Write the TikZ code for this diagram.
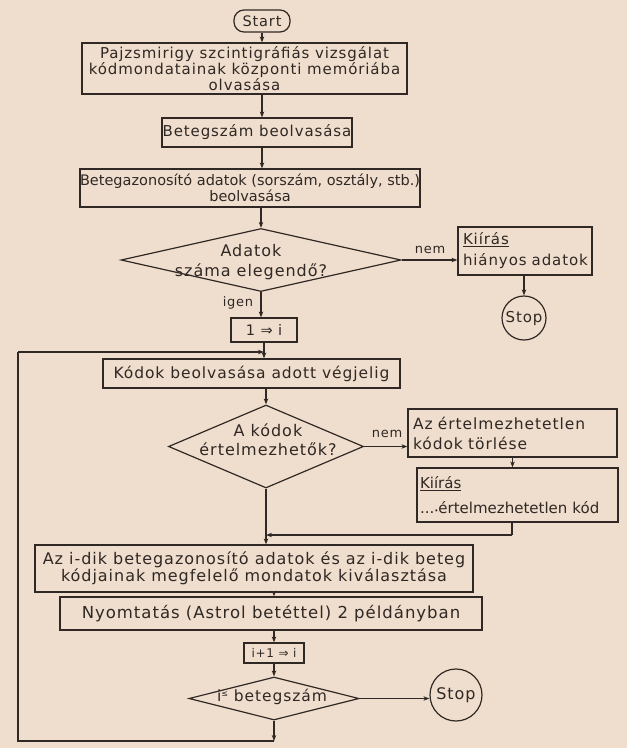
\documentclass[tikz,border=0pt]{standalone}
\usepackage{fontspec}
\setmainfont{DejaVu Sans}[LetterSpace=6]
\newfontfamily\tightfont{DejaVu Sans}[LetterSpace=0]
\usetikzlibrary{shapes.geometric,arrows.meta}
\definecolor{paper}{RGB}{239,222,205}
\definecolor{ink}{RGB}{48,40,36}
\begin{document}
\begin{tikzpicture}[x=1pt,y=-1pt,
  every node/.style={font=\fontsize{15.5}{18}\selectfont, text=ink},
  line/.style={draw=ink, line width=1.2pt},
  flow/.style={line, -{Stealth[length=6pt,width=4.5pt]}},
  box/.style={draw=ink, line width=1.2pt, rectangle, inner sep=0pt, align=center},
  lbox/.style={box, align=left, inner xsep=5pt},
  dec/.style={draw=ink, line width=1.2pt, diamond, inner sep=0pt},
  term/.style={draw=ink, line width=1.2pt, circle, inner sep=0pt},
  startbox/.style={draw=ink, line width=1.2pt, rectangle, rounded corners=10pt, inner sep=0pt},
  lbl/.style={inner sep=1pt, font=\fontsize{13}{15}\selectfont}
]
% paper
\fill[paper] (0,0) rectangle (627,748);
\useasboundingbox (0,0) rectangle (627,748);

% ---- nodes ----
\node[startbox, minimum width=56pt, minimum height=22pt, font=\fontsize{14.5}{17}\selectfont] (start) at (262,21) {Start};
\node[box, minimum width=325pt, minimum height=51pt, font=\fontsize{15}{14}\selectfont] (b1) at (244.5,68.5)
  {Pajzsmirigy szcintigráfiás vizsgálat\\kódmondatainak központi memóriába\\olvasása};
\node[box, minimum width=190pt, minimum height=29pt, font=\fontsize{15}{18}\selectfont] (b2) at (257,132.5) {Betegszám beolvasása};
\node[box, minimum width=340pt, minimum height=38pt, font=\tightfont\fontsize{14.5}{16.5}\selectfont] (b3) at (250,188)
  {Betegazonosító adatok (sorszám, osztály, stb.)\\beolvasása};

\node[dec, minimum width=280pt, minimum height=63pt] (d1) at (261,260) {};
\node[align=center, font=\fontsize{16}{20}\selectfont] (d1t) at (251,262) {Adatok\\száma elegendő?};
\node[lbox, text width=124pt, minimum height=48pt, font=\fontsize{15}{21}\selectfont] (k1) at (525,251)
  {\underline{Kiírás}\\hiányos adatok};
\node[lbl] (nem1) at (430,250) {nem};
\node[term, minimum size=44pt, font=\fontsize{15}{18}\selectfont] (stop1) at (524,318) {Stop};
\node[lbl] (igen) at (238,303) {igen};
\node[box, minimum width=66pt, minimum height=24pt, font=\fontsize{14.5}{17}\selectfont] (i1) at (264,330) {1 ⇒ i};

\node[box, minimum width=297pt, minimum height=29pt] (b4) at (251.5,373.5) {Kódok beolvasása adott végjelig};

\node[dec, minimum width=195pt, minimum height=83pt] (d2) at (266,446.5) {};
\node[align=center, font=\fontsize{16}{19}\selectfont] (d2t) at (268,440) {A kódok\\értelmezhetők?};
\node[lbl] (nem2) at (387,434) {nem};
\node[lbox, text width=199pt, minimum height=48pt, font=\fontsize{15.5}{20}\selectfont] (b5) at (512.5,433)
  {Az értelmezhetetlen\\kódok törlése};
\node[lbox, inner xsep=3pt, text width=195pt, minimum height=54pt, font=\tightfont\fontsize{15}{25}\selectfont] (k2) at (517.5,495)
  {\underline{Kiírás}\\...{\scriptsize•}értelmezhetetlen kód};
\coordinate (jn) at (512,535);

\node[box, minimum width=438pt, minimum height=47pt, font=\fontsize{16}{16.5}\selectfont] (b6) at (254,568.5)
  {Az i-dik betegazonosító adatok és az i-dik beteg\\kódjainak megfelelő mondatok kiválasztása};
\node[box, minimum width=422pt, minimum height=33pt, font=\fontsize{16.5}{19}\selectfont] (b7) at (271,613.5) {Nyomtatás (Astrol betéttel) 2 példányban};
\node[box, minimum width=60pt, minimum height=20pt, font=\fontsize{12}{14}\selectfont] (i2) at (274,653) {i+1 ⇒ i};

\node[dec, minimum width=170pt, minimum height=43pt] (d3) at (274,698.5) {};
\node (d3t) at (272,697) {i\raisebox{0.55ex}{\footnotesize ≤} betegszám};
\node[term, minimum size=52pt, font=\fontsize{16}{18}\selectfont] (stop2) at (456,695) {Stop};

\coordinate (lb) at (18,741);
\coordinate (lt) at (18,352);

% ---- connectors ----
\draw[flow] (start) -- (start |- b1.north);
\draw[flow] (b1.south -| start) -- (b2.north -| start);
\draw[flow] (b2.south -| start) -- (b3.north -| start);
\draw[flow] (b3.south -| d1) -- (d1.north);
\draw[flow] (d1.east) -- (d1.east -| k1.west);
\draw[flow] (k1.south -| stop1) -- (stop1.north);
\draw[flow] (d1.south) -- (d1.south |- i1.north);
\draw[flow] (i1.south) -- (i1.south |- b4.north);
\draw[flow] (b4.south -| d2) -- (d2.north);
\draw[flow] (d2.east) -- (d2.east -| b5.west);
\draw[flow] (b5.south) -- (b5.south |- k2.north);
\draw[line] (k2.south -| jn) -- (jn);
\draw[flow] (jn) -- (jn -| d2);
\draw[flow] (d2.south) -- (d2.south |- b6.north);
\draw[flow] (b6.south -| i2) -- (b7.north -| i2);
\draw[flow] (b7.south -| i2) -- (i2.north);
\draw[flow] (i2) -- (d3.north);
\draw[flow] (d3.east) -- (d3.east -| stop2.west);
% loop back to the reading step
\draw[flow] (d3.south) -- (d3.south |- lb);
\draw[line] (d3.south |- lb) -- (lb) -- (lt);
\draw[flow] (lt) -- (lt -| i1);
\end{tikzpicture}
\end{document}
